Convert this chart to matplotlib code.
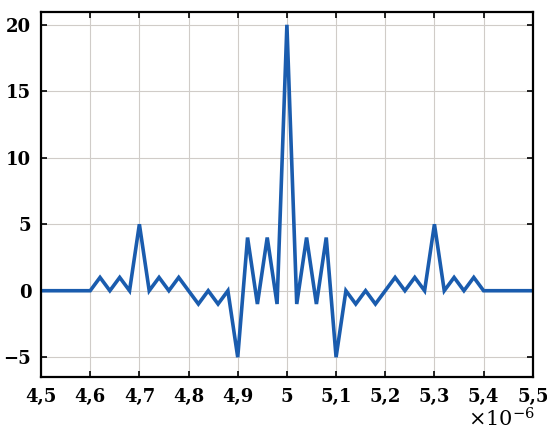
import numpy as np
import matplotlib
matplotlib.use("Agg")
import matplotlib.pyplot as plt
from matplotlib.ticker import FuncFormatter

# ============================================================
# Data (x in units of 1e-6)
# ============================================================

x_us = [4.50, 4.52, 4.54, 4.56, 4.58, 4.60, 4.62, 4.64, 4.66, 4.68,
        4.70, 4.72, 4.74, 4.76, 4.78, 4.80, 4.82, 4.84, 4.86, 4.88,
        4.90, 4.92, 4.94, 4.96, 4.98, 5.00, 5.02, 5.04, 5.06, 5.08,
        5.10, 5.12, 5.14, 5.16, 5.18, 5.20, 5.22, 5.24, 5.26, 5.28,
        5.30, 5.32, 5.34, 5.36, 5.38, 5.40, 5.42, 5.44, 5.46, 5.48,
        5.50]

y = [0, 0, 0, 0, 0, 0, 1, 0, 1, 0,
     5, 0, 1, 0, 1, 0, -1, 0, -1, 0,
     -5, 4, -1, 4, -1, 20, -1, 4, -1, 4,
     -5, 0, -1, 0, -1, 0, 1, 0, 1, 0,
     5, 0, 1, 0, 1, 0, 0, 0, 0, 0,
     0]

xticks_us = [4.5, 4.6, 4.7, 4.8, 4.9, 5.0, 5.1, 5.2, 5.3, 5.4, 5.5]
yticks = [-5, 0, 5, 10, 15, 20]

# ============================================================
# Figure
# ============================================================

plt.rcParams['font.family'] = ['DejaVu Serif']
plt.rcParams['mathtext.fontset'] = 'dejavuserif'

fig = plt.figure(figsize=(5.47, 4.34), dpi=100)
ax = fig.add_axes([0.075, 0.131, 0.899, 0.841])

x = np.array(x_us) * 1e-6
ax.plot(x, y, color='#1a5cae', linewidth=2.6, solid_joinstyle='miter')

ax.set_xlim(4.5e-6, 5.5e-6)
ax.set_ylim(-6.5, 20.95)

ax.set_xticks(np.array(xticks_us) * 1e-6)
ax.set_yticks(yticks)


def fmt_x(v, pos):
    s = ('%.1f' % (v * 1e6)).rstrip('0').rstrip('.')
    return s.replace('.', ',')


def fmt_y(v, pos):
    return ('%d' % v).replace('-', '\u2212')


ax.xaxis.set_major_formatter(FuncFormatter(fmt_x))
ax.yaxis.set_major_formatter(FuncFormatter(fmt_y))

ax.grid(True, color='#d0ccc8', linewidth=0.8)
ax.set_axisbelow(True)

ax.tick_params(direction='in', length=4, width=1.2, top=True, right=True,
               labelsize=13)
ax.tick_params(axis='y', pad=7)
ax.tick_params(axis='x', pad=8)
for lab in ax.get_xticklabels() + ax.get_yticklabels():
    lab.set_fontweight('bold')

for sp in ax.spines.values():
    sp.set_linewidth(1.6)

fig.text(0.978, 0.008, r'$\times10^{-6}$', ha='right', va='bottom',
         fontsize=15)

fig.savefig('out.png', dpi=100)
